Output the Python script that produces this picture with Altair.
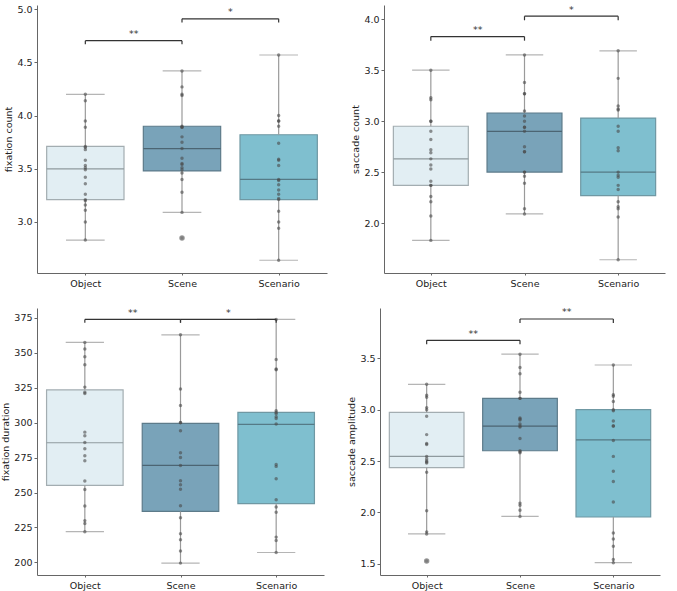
import altair as alt
import pandas as pd

CATS = ["Object", "Scene", "Scenario"]
FILLS = ["#e2eef3", "#79a3b9", "#7fbfcf"]
EDGES = ["#a3adb1", "#5d7b8a", "#6f98a3"]
MEDS = ["#8f9a9e", "#4c6573", "#557a86"]

# ---------- fixation count ----------
fc_object = [4.20, 4.14, 3.95, 3.89, 3.71, 3.70, 3.68, 3.58, 3.53, 3.51, 3.49, 3.42, 3.36, 3.26, 3.21, 3.20, 3.16, 3.11, 3.00, 2.83]
fc_scene = [4.42, 4.27, 4.20, 4.19, 3.90, 3.89, 3.89, 3.80, 3.75, 3.69, 3.60, 3.55, 3.54, 3.51, 3.49, 3.46, 3.40, 3.28, 3.09, 2.85]
fc_scenario = [4.57, 4.00, 3.95, 3.95, 3.90, 3.74, 3.59, 3.58, 3.53, 3.40, 3.39, 3.35, 3.30, 3.26, 3.22, 3.21, 3.10, 3.00, 2.94, 2.64]
fc_lo = [2.83, 3.09, 2.64]
fc_q1 = [3.21, 3.48, 3.21]
fc_med = [3.50, 3.69, 3.40]
fc_q3 = [3.71, 3.90, 3.82]
fc_hi = [4.20, 4.42, 4.57]
fc_out_cat = [1]
fc_out_val = [2.85]

# ---------- saccade count ----------
sc_object = [3.50, 3.23, 3.21, 3.00, 3.00, 2.90, 2.82, 2.72, 2.69, 2.63, 2.57, 2.53, 2.41, 2.37, 2.37, 2.26, 2.21, 2.07, 1.83]
sc_scene = [3.65, 3.38, 3.27, 3.27, 3.10, 3.05, 3.00, 2.94, 2.94, 2.90, 2.75, 2.70, 2.70, 2.50, 2.50, 2.46, 2.39, 2.14, 2.09]
sc_scenario = [3.69, 3.42, 3.15, 3.12, 3.11, 2.95, 2.90, 2.74, 2.71, 2.50, 2.47, 2.45, 2.37, 2.33, 2.21, 2.16, 2.14, 2.06, 1.64]
sc_lo = [1.83, 2.09, 1.64]
sc_q1 = [2.37, 2.50, 2.27]
sc_med = [2.63, 2.90, 2.50]
sc_q3 = [2.95, 3.08, 3.03]
sc_hi = [3.50, 3.65, 3.69]
sc_out_cat = []
sc_out_val = []

# ---------- fixation duration ----------
fd_object = [357.4, 352.6, 347.1, 341.4, 325.4, 321.8, 320.9, 293.2, 290.6, 285.8, 281.3, 276.3, 272.7, 258.2, 252.2, 240.3, 229.9, 227.9, 222.0]
fd_scene = [362.8, 324.0, 312.3, 300.1, 299.9, 294.2, 278.4, 275.1, 269.4, 258.4, 255.5, 252.3, 240.5, 231.9, 220.5, 216.2, 208.1, 199.5]
fd_scenario = [373.8, 345.2, 338.3, 337.8, 308.5, 307.3, 306.3, 304.2, 303.0, 299.0, 270.1, 268.7, 259.9, 244.8, 239.6, 235.9, 218.1, 215.7, 207.1]
fd_lo = [222.0, 199.5, 207.1]
fd_q1 = [255.1, 236.5, 242.0]
fd_med = [285.6, 269.4, 298.7]
fd_q3 = [323.5, 299.4, 307.3]
fd_hi = [357.4, 362.8, 373.8]
fd_out_cat = []
fd_out_val = []

# ---------- saccade amplitude ----------
sa_object = [3.247, 3.14, 3.12, 3.02, 3.00, 2.935, 2.757, 2.67, 2.66, 2.545, 2.52, 2.50, 2.49, 2.48, 2.39, 2.016, 1.81, 1.79, 1.526]
sa_scene = [3.54, 3.41, 3.35, 3.17, 3.11, 3.11, 2.92, 2.91, 2.90, 2.86, 2.84, 2.83, 2.72, 2.60, 2.59, 2.58, 2.09, 2.07, 2.02, 1.96]
sa_scenario = [3.435, 3.146, 3.13, 3.08, 3.00, 2.99, 2.89, 2.84, 2.84, 2.70, 2.545, 2.40, 2.30, 2.10, 1.80, 1.74, 1.67, 1.54, 1.51]
sa_lo = [1.79, 1.96, 1.51]
sa_q1 = [2.435, 2.60, 1.955]
sa_med = [2.545, 2.84, 2.705]
sa_q3 = [2.974, 3.11, 3.00]
sa_hi = [3.247, 3.54, 3.435]
sa_out_cat = [0]
sa_out_val = [1.526]

# brackets: (from, to, line y, tick bottom y, label, label y)
fc_br = [(0, 1, 4.705, 4.67, "**", 4.77), (1, 2, 4.91, 4.875, "*", 4.975)]
sc_br = [(0, 1, 3.83, 3.79, "**", 3.89), (1, 2, 4.03, 3.99, "*", 4.09)]
fd_br = [(0, 1, 373.8, 371.5, "**", 378.2), (1, 2, 373.8, 371.5, "*", 378.2)]
sa_br = [(0, 1, 3.675, 3.636, "**", 3.74), (1, 2, 3.883, 3.845, "**", 3.95)]

FONT = "DejaVu Sans"


def panel(groups, lo, q1, med, q3, hi, out_cat, out_val, brackets, title,
          domain, ticks, fmt, width, height):
    pts = pd.DataFrame([{"i": i, "v": v} for i, g in enumerate(groups) for v in g])
    box = pd.DataFrame({"i": [0, 1, 2], "cat": CATS, "lo": lo, "q1": q1,
                        "med": med, "q3": q3, "hi": hi})
    outs = pd.DataFrame({"i": out_cat, "v": out_val})
    br = pd.DataFrame(brackets, columns=["a", "b", "y", "yd", "lab", "ty"])

    xs = alt.Scale(domain=[-0.5, 2.5], nice=False, zero=False)
    ys = alt.Scale(domain=domain, nice=False, zero=False)
    xax = alt.Axis(values=[0, 1, 2], labelExpr="['Object','Scene','Scenario'][datum.value]",
                   title=None, grid=False, tickSize=2, labelPadding=3)
    yax = alt.Axis(values=ticks, format=fmt, title=title, grid=False, tickSize=3,
                   labelPadding=2, titlePadding=3)
    X = lambda f: alt.X(f, type="quantitative", scale=xs, axis=xax)
    Y = lambda f: alt.Y(f, type="quantitative", scale=ys, axis=yax)
    fill_scale = alt.Scale(domain=CATS, range=FILLS)
    edge_scale = alt.Scale(domain=CATS, range=EDGES)
    med_scale = alt.Scale(domain=CATS, range=MEDS)

    b = alt.Chart(box).transform_calculate(
        left="datum.i - 0.4", right="datum.i + 0.4",
        cl="datum.i - 0.2", cr="datum.i + 0.2")

    boxes = b.mark_rect(strokeWidth=1.2).encode(
        x=X("left"), x2="right", y=Y("q1"), y2="q3",
        fill=alt.Fill("cat:N", scale=fill_scale, legend=None),
        stroke=alt.Stroke("cat:N", scale=edge_scale, legend=None))
    wlo = b.mark_rule(color="#9a9a9a", strokeWidth=1.2).encode(x=X("i"), y=Y("lo"), y2="q1")
    whi = b.mark_rule(color="#9a9a9a", strokeWidth=1.2).encode(x=X("i"), y=Y("q3"), y2="hi")
    clo = b.mark_rule(color="#b5b5b5", strokeWidth=1.2).encode(x=X("cl"), x2="cr", y=Y("lo"))
    chi = b.mark_rule(color="#b5b5b5", strokeWidth=1.2).encode(x=X("cl"), x2="cr", y=Y("hi"))
    meds = b.mark_rule(strokeWidth=1.2).encode(
        x=X("left"), x2="right", y=Y("med"),
        color=alt.Color("cat:N", scale=med_scale, legend=None))
    dots = alt.Chart(pts).mark_circle(size=12, color="#4a4a4a", opacity=0.6).encode(
        x=X("i"), y=Y("v"))
    layers = [boxes, wlo, whi, clo, chi, meds, dots]
    if len(outs):
        layers.append(alt.Chart(outs).mark_circle(size=30, color="#777777", opacity=0.75).encode(
            x=X("i"), y=Y("v")))
    bb = alt.Chart(br).transform_calculate(mid="(datum.a + datum.b) / 2")
    layers += [
        bb.mark_rule(color="#333333", strokeWidth=1.2).encode(x=X("a"), x2="b", y=Y("y")),
        bb.mark_rule(color="#333333", strokeWidth=1.2).encode(x=X("a"), y=Y("yd"), y2="y"),
        bb.mark_rule(color="#333333", strokeWidth=1.2).encode(x=X("b"), y=Y("yd"), y2="y"),
        bb.mark_text(font=FONT, fontSize=9.5, color="#333333", baseline="middle").encode(
            x=X("mid"), y=Y("ty"), text="lab:N"),
    ]
    return alt.layer(*layers).properties(width=width, height=height)


p1 = panel([fc_object, fc_scene, fc_scenario], fc_lo, fc_q1, fc_med, fc_q3, fc_hi,
           fc_out_cat, fc_out_val, fc_br, "fixation count", [2.52, 5.04],
           [3.0, 3.5, 4.0, 4.5, 5.0], ".1f", 290, 268)
p2 = panel([sc_object, sc_scene, sc_scenario], sc_lo, sc_q1, sc_med, sc_q3, sc_hi,
           sc_out_cat, sc_out_val, sc_br, "saccade count", [1.51, 4.14],
           [2.0, 2.5, 3.0, 3.5, 4.0], ".1f", 281, 268)
p3 = panel([fd_object, fd_scene, fd_scenario], fd_lo, fd_q1, fd_med, fd_q3, fd_hi,
           fd_out_cat, fd_out_val, fd_br, "fixation duration", [191, 382],
           [200, 225, 250, 275, 300, 325, 350, 375], "d", 287, 267)
p4 = panel([sa_object, sa_scene, sa_scenario], sa_lo, sa_q1, sa_med, sa_q3, sa_hi,
           sa_out_cat, sa_out_val, sa_br, "saccade amplitude", [1.39, 3.99],
           [1.5, 2.0, 2.5, 3.0, 3.5], ".1f", 280, 267)

chart = alt.vconcat(
    alt.hconcat(p1, p2, spacing=23),
    alt.hconcat(p3, p4, spacing=22),
    spacing=19,
).properties(
    padding={"left": 0, "top": 4, "right": 5, "bottom": 5},
    background="white",
).configure_view(stroke=None).configure_axis(
    domainColor="#666666", tickColor="#666666", labelColor="#222222",
    titleColor="#222222", labelFont=FONT, titleFont=FONT, labelFontSize=9.5,
    titleFontSize=9.5, titleFontWeight="normal", domainWidth=1,
)

chart.save("out.html", embed_options={"renderer": "svg", "actions": False})
